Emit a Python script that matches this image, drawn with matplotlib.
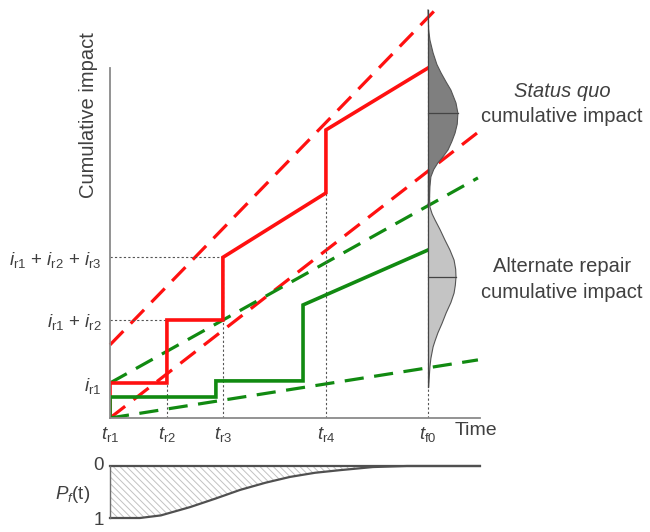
import matplotlib
matplotlib.use("Agg")
import matplotlib.pyplot as plt

plt.rcParams["font.family"] = ["Liberation Sans", "DejaVu Sans"]
plt.rcParams["mathtext.fontset"] = "custom"
plt.rcParams["mathtext.rm"] = "Liberation Sans"
plt.rcParams["mathtext.it"] = "Liberation Sans:italic"
plt.rcParams["hatch.linewidth"] = 0.7

TXT = "#404040"
RED = "#ff1010"
GREEN = "#118a11"

# repair event times and impact levels (arbitrary conceptual units)
t_events = [0.0, 1.79, 3.55, 6.79, 10.0]
t_labels = [r"$t_{\mathrm{r1}}$", r"$t_{\mathrm{r2}}$", r"$t_{\mathrm{r3}}$",
            r"$t_{\mathrm{r4}}$", r"$t_{\mathrm{f0}}$"]
impact_levels = [1.0, 2.8, 4.59]
impact_labels = [r"$i_{\mathrm{r1}}$",
                 r"$i_{\mathrm{r1}}$ + $i_{\mathrm{r2}}$",
                 r"$i_{\mathrm{r1}}$ + $i_{\mathrm{r2}}$ + $i_{\mathrm{r3}}$"]

# status quo cumulative impact (step path)
sq_t = [0, 0, 1.79, 1.79, 3.55, 3.55, 6.79, 6.79, 10.0]
sq_v = [0, 1.0, 1.0, 2.8, 2.8, 4.59, 6.43, 8.23, 10.0]
# alternate repair cumulative impact
alt_t = [0, 0, 3.33, 3.33, 6.07, 6.07, 10.0]
alt_v = [0, 0.6, 0.6, 1.06, 1.06, 3.23, 4.8]

# bounding envelopes (start, end)
sq_hi_t, sq_hi_v = [0, 10.4], [2.09, 11.82]
sq_lo_t, sq_lo_v = [0, 11.54], [0, 8.14]
alt_hi_t, alt_hi_v = [0, 11.57], [1.0, 6.86]
alt_lo_t, alt_lo_v = [0, 11.57], [0, 1.66]

# distributions of cumulative impact at t_f0 (half-width profiles)
sq_dist_v = [11.66, 11.1, 10.8, 10.43, 10.1, 9.86, 9.6, 9.37, 9.0, 8.71,
             8.4, 8.14, 7.9, 7.66, 7.45, 7.29, 7.1, 6.89, 6.6, 6.31, 6.09]
sq_dist_w = [0, 0.02, 0.06, 0.16, 0.28, 0.41, 0.57, 0.72, 0.88, 0.94,
             0.92, 0.85, 0.75, 0.63, 0.46, 0.31, 0.18, 0.09, 0.06, 0.05, 0]
sq_median = 8.71
alt_dist_v = [7.09, 6.5, 6.03, 5.83, 5.66, 5.38, 5.09, 4.8, 4.51, 4.25, 4.03,
              3.8, 3.57, 3.3, 3.0, 2.7, 2.43, 2.2, 2.03, 1.7, 1.46, 0.89]
alt_dist_w = [0.03, 0.04, 0.06, 0.13, 0.22, 0.38, 0.53, 0.69, 0.82, 0.87, 0.88,
              0.86, 0.82, 0.72, 0.57, 0.44, 0.31, 0.22, 0.16, 0.09, 0.06, 0.02]
alt_median = 4.03

# probability of failure curve P_f(t)
pf_t = [0, 0.94, 1.6, 2.52, 3.3, 4.09, 4.9, 5.66, 6.45, 7.23, 8.27, 9.34, 11.63]
pf_v = [1.0, 1.0, 0.95, 0.79, 0.63, 0.46, 0.32, 0.21, 0.13, 0.08, 0.02, 0.0, 0.0]

XMAX = 11.635
W, H = 650, 532

fig = plt.figure(figsize=(6.5, 5.32), dpi=100)
ax = fig.add_axes([110 / W, (H - 418) / H, 370 / W, 418 / H])
ax.set_xlim(0, XMAX)
ax.set_ylim(0, 418 / 35)

dash = dict(lw=2.3, dashes=(6, 3.3))
ax.plot(sq_hi_t, sq_hi_v, color=RED, clip_on=False, **dash)
ax.plot(sq_lo_t, sq_lo_v, color=RED, **dash)
ax.plot(alt_hi_t, alt_hi_v, color=GREEN, **dash)
ax.plot(alt_lo_t, alt_lo_v, color=GREEN, **dash)

# dotted guide lines
guide = dict(color="#555555", lw=0.8, ls=(0, (2, 2)))
ax.plot([0, t_events[1]], [impact_levels[1]] * 2, **guide)
ax.plot([0, t_events[2]], [impact_levels[2]] * 2, **guide)
ax.plot([t_events[1]] * 2, [0, impact_levels[0]], **guide)
ax.plot([t_events[2]] * 2, [0, impact_levels[2]], **guide)
ax.plot([t_events[3]] * 2, [0, sq_v[6]], **guide)
ax.plot([t_events[4]] * 2, [0, sq_dist_v[0]], **guide)

ax.plot(sq_t, sq_v, color=RED, lw=2.6, solid_joinstyle="miter")
ax.plot(alt_t, alt_v, color=GREEN, lw=2.6, solid_joinstyle="miter")

# half-violins at t_f0
t0 = t_events[4]
for dv, dw, med, fc in [(alt_dist_v, alt_dist_w, alt_median, "#c4c4c4"),
                        (sq_dist_v, sq_dist_w, sq_median, "#7f7f7f")]:
    xs = [t0 + w for w in dw]
    ax.fill_betweenx(dv, t0, xs, facecolor=fc, edgecolor="none", zorder=4)
    ax.plot(xs, dv, color="#555555", lw=0.8, zorder=5)
    ax.plot([t0, t0], [dv[0], dv[-1]], color="#444444", lw=0.9, zorder=5)
    ax.plot([t0, t0 + max(dw)], [med, med], color="#444444", lw=0.9, zorder=5)

for s in ["top", "right"]:
    ax.spines[s].set_visible(False)
for s in ["left", "bottom"]:
    ax.spines[s].set_color("#8a8a8a")
    ax.spines[s].set_linewidth(1.3)
ax.spines["left"].set_bounds(0, 10.0)

ax.set_xticks(t_events)
ax.set_xticklabels(t_labels)
ax.set_yticks(impact_levels)
ax.set_yticklabels(impact_labels)
ax.tick_params(length=0, labelsize=13.5, labelcolor=TXT)
ax.tick_params(axis="x", pad=5)
ax.tick_params(axis="y", pad=6)

ax.text(-0.69, 8.66, "Cumulative impact", rotation=90, ha="center", va="center",
        fontsize=14.5, color=TXT)
ax.text(10.85, -0.35, "Time", ha="left", va="center", fontsize=14, color=TXT,
        clip_on=False)

fig.text(562 / W, 1 - 92 / H, "Status quo", style="italic", ha="center",
         va="center", fontsize=14.5, color=TXT)
fig.text(562 / W, 1 - 117 / H, "cumulative impact", ha="center", va="center",
         fontsize=14.5, color=TXT)
fig.text(562 / W, 1 - 266 / H, "Alternate repair", ha="center", va="center",
         fontsize=14.5, color=TXT)
fig.text(562 / W, 1 - 292 / H, "cumulative impact", ha="center", va="center",
         fontsize=14.5, color=TXT)

# failure probability panel
ax2 = fig.add_axes([110 / W, (H - 518) / H, 370 / W, 52 / H])
ax2.set_xlim(0, XMAX)
ax2.set_ylim(1, 0)
ax2.axis("off")
ax2.fill_between(pf_t, 0, pf_v, facecolor="white", edgecolor="#c2c2c2",
                 hatch="\\\\\\\\\\", linewidth=0)
ax2.plot(pf_t, pf_v, color="#505050", lw=1.6, clip_on=False)
ax2.plot([0, XMAX], [0, 0], color="#505050", lw=1.6, clip_on=False)
ax2.plot([0, 0], [0, 1], color="#707070", lw=1.0, clip_on=False)
ax2.text(-0.2, 0.0, "0", ha="right", va="center", fontsize=13.5, color=TXT)
ax2.text(-0.2, 1.05, "1", ha="right", va="center", fontsize=13.5, color=TXT)
ax2.text(-1.17, 0.55, r"$P_f$(t)", ha="center", va="center", fontsize=13.5,
         color=TXT)

fig.savefig("out.png", dpi=100, facecolor="white")
